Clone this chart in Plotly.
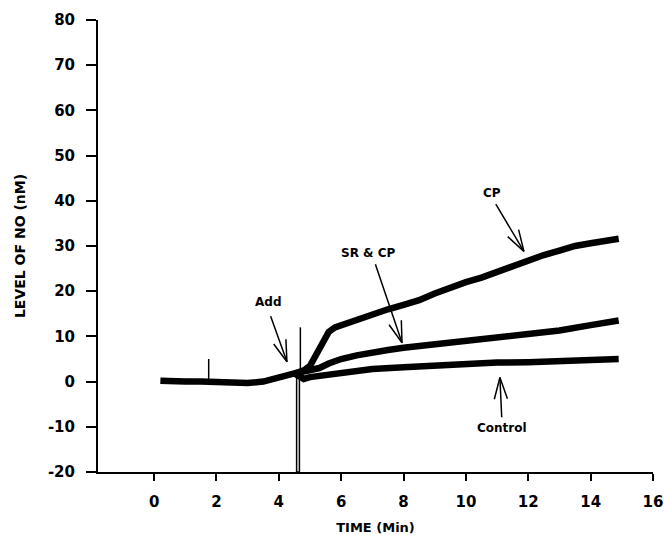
import math
import plotly.graph_objects as go

# ---- data ----
base_t = [0.2, 0.5, 1.0, 1.5, 2.0, 2.5, 3.0, 3.5, 3.8, 4.2, 4.5]
base_y = [0.2, 0.0, 0.0, 0.0, -0.1, -0.3, -0.3, 0.0, 0.5, 1.2, 1.8]

control_t = [4.5, 4.8, 5.0, 5.5, 6.0, 7.0, 8.0, 9.0, 10.0, 11.0, 12.0, 13.0, 14.0, 14.9]
control_y = [1.8, 0.6, 1.0, 1.5, 2.0, 2.8, 3.2, 3.6, 4.0, 4.2, 4.3, 4.5, 4.8, 5.0]

srcp_t = [4.5, 5.0, 5.3, 5.6, 6.0, 6.5, 7.0, 7.5, 8.0, 9.0, 10.0, 11.0, 12.0, 13.0, 14.0, 14.9]
srcp_y = [1.8, 2.5, 3.0, 4.0, 5.0, 5.8, 6.5, 7.0, 7.5, 8.3, 9.0, 9.8, 10.5, 11.3, 12.5, 13.5]

cp_t = [4.5, 4.8, 5.0, 5.2, 5.4, 5.6, 5.8, 6.0, 6.5, 7.0, 7.5, 8.0, 8.5, 9.0, 9.5, 10.0,
        10.5, 11.0, 11.5, 12.0, 12.5, 13.0, 13.5, 14.0, 14.5, 14.9]
cp_y = [1.8, 2.5, 3.5, 6.0, 8.5, 11.0, 12.0, 12.5, 13.8, 15.0, 16.0, 17.0, 18.0, 19.5, 20.8, 22.0,
        23.0, 24.3, 25.6, 27.0, 28.0, 29.0, 30.0, 30.6, 31.2, 31.6]

spike_t = [1.75, 1.75, None, 4.57, 4.57, 4.66, 4.66, None, 4.69, 4.69]
spike_y = [0.0, 5.0, None, 1.0, -20.0, -20.0, 1.0, None, 1.0, 12.0]

x_ticks = [0, 2, 4, 6, 8, 10, 12, 14, 16]
y_ticks = [-20, -10, 0, 10, 20, 30, 40, 50, 60, 70, 80]

# labels: (text, text_x, text_y, shaft_start_x, shaft_start_y, tip_x, tip_y)
labels = [
    ("Add", 3.65, 17.7, 3.72, 14.8, 4.26, 4.4),
    ("SR & CP", 6.86, 28.5, 7.08, 26.3, 7.95, 8.6),
    ("CP", 10.83, 41.8, 10.93, 39.6, 11.86, 28.8),
    ("Control", 11.15, -10.2, 11.15, -8.2, 11.09, 0.9),
]

# ---- layout geometry ----
W, H = 664, 535
ML, MR, MT, MB = 98, 11, 20, 63
XR = [-1.8, 16]
YR = [-20, 80]
sx = (W - ML - MR) / (XR[1] - XR[0])   # px per x unit
sy = (H - MT - MB) / (YR[1] - YR[0])   # px per y unit

FONT = "DejaVu Sans"

fig = go.Figure()
line_style = dict(color="black", width=6.5)
for t, y in [(base_t, base_y), (control_t, control_y), (srcp_t, srcp_y), (cp_t, cp_y)]:
    fig.add_trace(go.Scatter(x=t, y=y, mode="lines", line=line_style,
                             hoverinfo="skip", showlegend=False))
fig.add_trace(go.Scatter(x=spike_t, y=spike_y, mode="lines",
                         line=dict(color="black", width=1.5),
                         connectgaps=False, hoverinfo="skip", showlegend=False))

annotations = []
for text, tx, ty, ax, ay, px, py in labels:
    annotations.append(dict(x=tx, y=ty, xref="x", yref="y", text=f"<b>{text}</b>",
                            showarrow=False, font=dict(family=FONT, size=12, color="black")))
    # shaft
    annotations.append(dict(x=px, y=py, ax=ax, ay=ay, xref="x", yref="y",
                            axref="x", ayref="y", text="", showarrow=True,
                            arrowhead=0, arrowwidth=1.5, arrowcolor="black", standoff=0,
                            startstandoff=0))
    # open V barbs
    dxp = (ax - px) * sx
    dyp = (ay - py) * sy
    n = math.hypot(dxp, dyp)
    ux, uy = dxp / n, dyp / n
    for ang in (math.radians(17), math.radians(-17)):
        rx = ux * math.cos(ang) - uy * math.sin(ang)
        ry = ux * math.sin(ang) + uy * math.cos(ang)
        bx = px + rx * 24 / sx
        by = py + ry * 24 / sy
        annotations.append(dict(x=px, y=py, ax=bx, ay=by, xref="x", yref="y",
                                axref="x", ayref="y", text="", showarrow=True,
                                arrowhead=0, arrowwidth=1.5, arrowcolor="black",
                                standoff=0, startstandoff=0))

fig.update_layout(
    width=W, height=H,
    margin=dict(l=ML, r=MR, t=MT, b=MB, pad=0, autoexpand=False),
    paper_bgcolor="white", plot_bgcolor="white",
    showlegend=False,
    annotations=annotations,
    font=dict(family=FONT, color="black"),
)
fig.update_xaxes(
    range=XR, tickvals=x_ticks, ticktext=[str(v) for v in x_ticks],
    automargin=False,
    showgrid=False, zeroline=False, showline=True, linecolor="black", linewidth=2,
    ticks="outside", ticklen=7, tickwidth=2, tickcolor="black",
    tickfont=dict(family=FONT, size=15, color="black", weight="bold"),
    ticklabelstandoff=8,
    title=dict(text="<b>TIME (Min)</b>", font=dict(family=FONT, size=13, color="black"),
               standoff=13),
)
fig.update_yaxes(
    range=YR, tickvals=y_ticks, ticktext=[str(v) for v in y_ticks],
    automargin=False,
    showgrid=False, zeroline=False, showline=True, linecolor="black", linewidth=2,
    ticks="outside", ticklen=10, tickwidth=2, tickcolor="black",
    tickfont=dict(family=FONT, size=15, color="black", weight="bold"),
    ticklabelstandoff=8,
    title=dict(text="<b>LEVEL OF NO (nM)</b>", font=dict(family=FONT, size=14, color="black"),
               standoff=19),
)

fig.write_html("out.html",
               config={"displayModeBar": False},
               post_script="document.body.style.margin='0';document.body.style.overflow='hidden';")
